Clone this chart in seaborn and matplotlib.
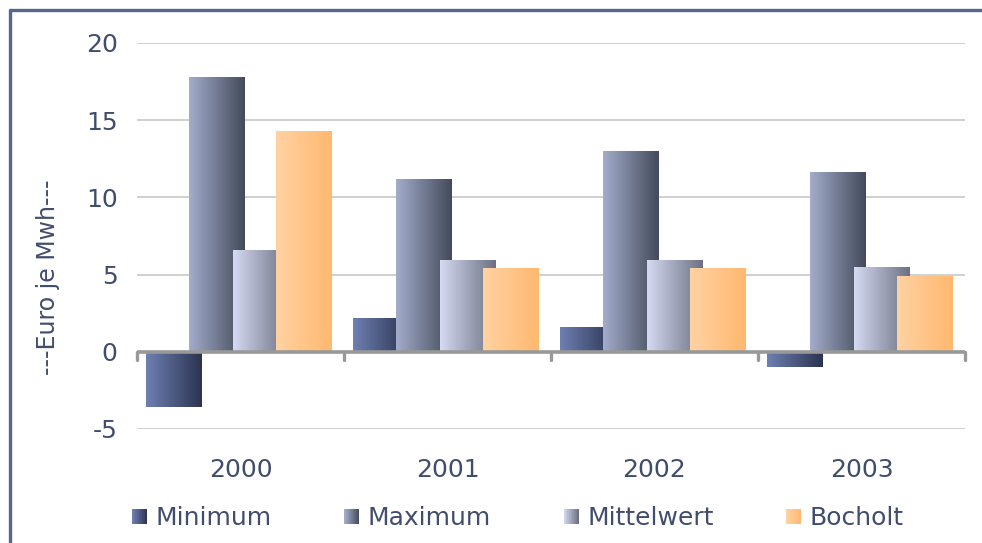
import numpy as np
import pandas as pd
import matplotlib
matplotlib.use("Agg")
import matplotlib.pyplot as plt
from matplotlib.colors import LinearSegmentedColormap, to_rgb
from matplotlib.legend_handler import HandlerBase
from matplotlib.patches import Rectangle, Patch
from matplotlib.lines import Line2D
import seaborn as sns

# ---- data -------------------------------------------------------------
years = ["2000", "2001", "2002", "2003"]
series = ["Minimum", "Maximum", "Mittelwert", "Bocholt"]
minimum = [-3.6, 2.2, 1.6, -1.0]
maximum = [17.8, 11.2, 13.0, 11.6]
mittelwert = [6.6, 5.9, 5.9, 5.5]
bocholt = [14.3, 5.4, 5.4, 4.9]
y_ticks = [-5, 0, 5, 10, 15, 20]
y_label = "---Euro je Mwh---"

# left -> right colour of each bar's horizontal gradient
gradients = {
    "Minimum": ("#6e80b2", "#2b3350"),
    "Maximum": ("#a3adcb", "#434a5b"),
    "Mittelwert": ("#d6daf2", "#6c7082"),
    "Bocholt": ("#ffd2a3", "#ffb86f"),
}

TEXT = "#414d6c"
FRAME = "#566789"
FS = 18

df = pd.DataFrame({
    "year": np.repeat(years, len(series)),
    "series": series * len(years),
    "value": np.ravel(np.column_stack([minimum, maximum, mittelwert, bocholt])),
})

sns.set_theme(style="white")
plt.rcParams["font.family"] = ["DejaVu Sans"]

W, H = 982, 543
fig = plt.figure(figsize=(W / 100, H / 100), dpi=100)
ax = fig.add_axes([137 / W, 1 - 429 / H, 828 / W, 386 / H])

palette = {s: gradients[s][1] for s in series}
sns.barplot(data=df, x="year", y="value", hue="series", hue_order=series,
            order=years, palette=palette, width=0.84, saturation=1,
            legend=False, ax=ax)

# widen the bars so neighbours overlap, then paint each with a gradient
bar_w = 0.266
shift = -0.01
for i, (name, cont) in enumerate(zip(series, ax.containers)):
    cmap = LinearSegmentedColormap.from_list(name, gradients[name])
    grad = np.linspace(0, 1, 256).reshape(1, -1)
    for bar in cont.patches:
        cx = bar.get_x() + bar.get_width() / 2 + shift
        y0 = bar.get_y()
        y1 = y0 + bar.get_height()
        bar.set_visible(False)
        ax.imshow(grad, extent=(cx - bar_w / 2, cx + bar_w / 2, min(y0, y1), max(y0, y1)),
                  aspect="auto", cmap=cmap, interpolation="bicubic",
                  zorder=2 + i * 0.1)

ax.set_xlim(-0.5, len(years) - 0.5)
ax.set_ylim(-5, 20)
ax.set_yticks(y_ticks)
ax.set_yticklabels([str(t) for t in y_ticks])
ax.set_xlabel("")
ax.set_ylabel("")

for sp in ax.spines.values():
    sp.set_visible(False)
ax.set_axisbelow(True)
ax.yaxis.grid(True, color="#c3c3c3", lw=1.1)
ax.xaxis.grid(False)

ax.tick_params(axis="y", length=0, pad=14, labelsize=FS, labelcolor=TEXT)
ax.tick_params(axis="x", length=0, pad=21, labelsize=FS, labelcolor=TEXT)

# category axis drawn at zero, with separators between the years
ax.axhline(0, color="#999999", lw=2.6, zorder=5)
for b in np.arange(len(years) + 1) - 0.5:
    ax.plot([b, b], [0, -0.5], color="#999999", lw=2.4,
            solid_capstyle="round", zorder=5, clip_on=False)

fig.text(48 / W, 1 - 277 / H, y_label, rotation=90, ha="center", va="center",
         fontsize=17, color=TEXT)


class GradientSquare(HandlerBase):
    def __init__(self, c0, c1, n=24):
        super().__init__()
        self.c0, self.c1, self.n = np.array(to_rgb(c0)), np.array(to_rgb(c1)), n

    def create_artists(self, legend, orig_handle, xdescent, ydescent,
                       width, height, fontsize, trans):
        side = min(width, height)
        x0 = -xdescent + (width - side) / 2
        y0 = -ydescent + (height - side) / 2
        arts = []
        for k in range(self.n):
            t = k / (self.n - 1)
            c = self.c0 * (1 - t) + self.c1 * t
            arts.append(Rectangle((x0 + k * side / self.n, y0), side / self.n + 0.05,
                                  side, facecolor=c, lw=0, transform=trans))
        return arts


proxies = [Patch(label=s) for s in series]
hmap = {p: GradientSquare(*gradients[s]) for p, s in zip(proxies, series)}
leg = fig.legend(handles=proxies, handler_map=hmap, loc="center",
                 bbox_to_anchor=(518 / W, 1 - 518 / H), ncol=4, frameon=False,
                 fontsize=FS, handlelength=0.6, handleheight=0.6,
                 handletextpad=0.34, columnspacing=2.9)
for t in leg.get_texts():
    t.set_color(TEXT)

# outer frame along the top and left edges
fig.add_artist(Line2D([8.5 / W, 1.0], [1 - 9.5 / H, 1 - 9.5 / H], color=FRAME, lw=2.4,
                      solid_capstyle="butt", transform=fig.transFigure))
fig.add_artist(Line2D([9.5 / W, 9.5 / W], [0.0, 1 - 8.5 / H], color=FRAME, lw=2.4,
                      solid_capstyle="butt", transform=fig.transFigure))

fig.savefig("out.png", dpi=100)
